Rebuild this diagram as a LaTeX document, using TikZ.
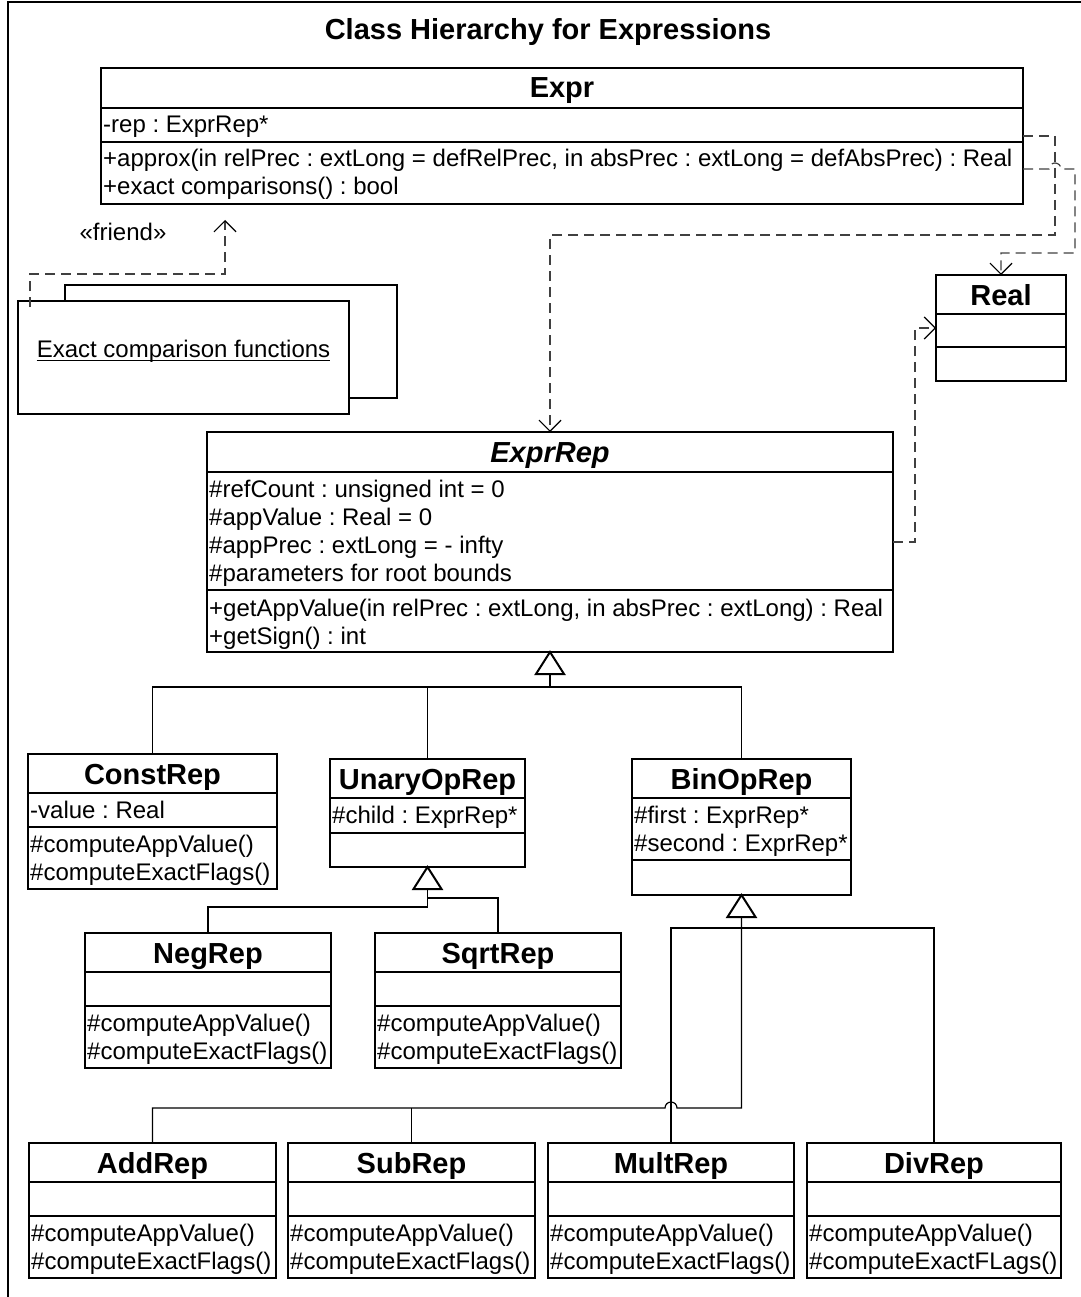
\documentclass[tikz,border=0pt]{standalone}
\usepackage{fontspec}
\setmainfont{Liberation Sans}
\usetikzlibrary{arrows.meta}
\frenchspacing
\begin{document}
\begin{tikzpicture}[x=1pt,y=-1pt,
 classbox/.style={draw, line width=2pt, fill=white, inner sep=0pt, outer sep=0pt},
 sepline/.style={line width=2pt},
 cname/.style={font=\fontsize{29}{33}\selectfont\bfseries, anchor=base, inner sep=0pt},
 member/.style={font=\fontsize{24}{28}\selectfont\frenchspacing, anchor=base west, inner sep=0pt},
 dep/.style={line width=1.2pt, black!75, dash pattern=on 10pt off 6pt,
   -{Straight Barb[length=11pt,width=22pt,line width=1.2pt,color=black]}},
 inh/.style={line width=1.2pt},
 tri/.style={line width=2pt, fill=white},
]
\useasboundingbox (0,0) rectangle (1080,1297);
% frame
\draw[line width=2pt] (8,1305) -- (8,2) -- (1090,2);
\node[cname] (title) at (548,40) {Class Hierarchy for Expressions};

% ---------- Expr
\node[classbox, minimum width=922pt, minimum height=136pt] (Expr) at (562,136) {};
\draw[sepline] (101,108) -- (1023,108);
\draw[sepline] (101,142) -- (1023,142);
\node[cname] (ExprN) at (562,98) {Expr};
\node[member] (ExprA1) at (103,133) {-rep : ExprRep*};
\node[member] (ExprO1) at (103,167) {+approx(in relPrec : extLong = defRelPrec, in absPrec : extLong = defAbsPrec) : Real};
\node[member] (ExprO2) at (103,195) {+exact comparisons() : bool};

% ---------- Real
\node[classbox, minimum width=130pt, minimum height=106pt] (Real) at (1001,328) {};
\draw[sepline] (936,314) -- (1066,314);
\draw[sepline] (936,347) -- (1066,347);
\node[cname] (RealN) at (1001,305) {Real};

% ---------- Exact comparison functions
\node[classbox, minimum width=332pt, minimum height=113pt] (ExactBack) at (231,341.5) {};
\node[classbox, minimum width=331pt, minimum height=113pt] (Exact) at (183.5,357.5) {};
\node[member, anchor=base] (ExactT) at (183.5,357.6) {Exact comparison functions};
\draw[line width=1.2pt] ([yshift=-3pt]ExactT.base west) -- ([yshift=-3pt]ExactT.base east);
\node[member, anchor=base] (friendlbl) at (123,240.6) {«friend»};

% ---------- ExprRep
\node[classbox, minimum width=686pt, minimum height=220pt] (ExprRep) at (550,542) {};
\draw[sepline] (207,472) -- (893,472);
\draw[sepline] (207,590) -- (893,590);
\node[cname] (ExprRepN) at (550,462) {\itshape ExprRep};
\node[member] (ERa1) at (209,497) {\#refCount : unsigned int = 0};
\node[member] (ERa2) at (209,525) {\#appValue : Real = 0};
\node[member] (ERa3) at (209,553) {\#appPrec : extLong = - infty};
\node[member] (ERa4) at (209,581) {\#parameters for root bounds};
\node[member] (ERo1) at (209,616) {+getAppValue(in relPrec : extLong, in absPrec : extLong) : Real};
\node[member] (ERo2) at (209,644) {+getSign() : int};

% ---------- ConstRep
\node[classbox, minimum width=249pt, minimum height=135pt] (ConstRep) at (152.5,821.5) {};
\draw[sepline] (28,793) -- (277,793);
\draw[sepline] (28,827) -- (277,827);
\node[cname] (ConstRepN) at (152.5,784) {ConstRep};
\node[member] (CRa1) at (30,818) {-value : Real};
\node[member] (CRo1) at (30,852) {\#computeAppValue()};
\node[member] (CRo2) at (30,880) {\#computeExactFlags()};

% ---------- UnaryOpRep
\node[classbox, minimum width=195pt, minimum height=108pt] (UnaryOpRep) at (427.5,813) {};
\draw[sepline] (330,798) -- (525,798);
\draw[sepline] (330,833) -- (525,833);
\node[cname] (UnaryOpRepN) at (427.5,789) {UnaryOpRep};
\node[member] (URa1) at (332,823) {\#child : ExprRep*};

% ---------- BinOpRep
\node[classbox, minimum width=219pt, minimum height=136pt] (BinOpRep) at (741.5,827) {};
\draw[sepline] (632,798) -- (851,798);
\draw[sepline] (632,860) -- (851,860);
\node[cname] (BinOpRepN) at (741.5,789) {BinOpRep};
\node[member] (BRa1) at (634,823) {\#first : ExprRep*};
\node[member] (BRa2) at (634,851) {\#second : ExprRep*};

% ---------- NegRep / SqrtRep
\node[classbox, minimum width=246pt, minimum height=135pt] (NegRep) at (208,1000.5) {};
\draw[sepline] (85,972) -- (331,972);
\draw[sepline] (85,1006) -- (331,1006);
\node[cname] (NegRepN) at (208,963) {NegRep};
\node[member] (NRo1) at (87,1031) {\#computeAppValue()};
\node[member] (NRo2) at (87,1059) {\#computeExactFlags()};

\node[classbox, minimum width=246pt, minimum height=135pt] (SqrtRep) at (498,1000.5) {};
\draw[sepline] (375,972) -- (621,972);
\draw[sepline] (375,1006) -- (621,1006);
\node[cname] (SqrtRepN) at (498,963) {SqrtRep};
\node[member] (SRo1) at (377,1031) {\#computeAppValue()};
\node[member] (SRo2) at (377,1059) {\#computeExactFlags()};

% ---------- bottom row
\node[classbox, minimum width=247pt, minimum height=135pt] (AddRep) at (152.5,1210.5) {};
\draw[sepline] (29,1182) -- (276,1182);
\draw[sepline] (29,1216) -- (276,1216);
\node[cname] (AddRepN) at (152.5,1173) {AddRep};
\node[member] (ARo1) at (31,1241) {\#computeAppValue()};
\node[member] (ARo2) at (31,1269) {\#computeExactFlags()};

\node[classbox, minimum width=247pt, minimum height=135pt] (SubRep) at (411.5,1210.5) {};
\draw[sepline] (288,1182) -- (535,1182);
\draw[sepline] (288,1216) -- (535,1216);
\node[cname] (SubRepN) at (411.5,1173) {SubRep};
\node[member] (SuRo1) at (290,1241) {\#computeAppValue()};
\node[member] (SuRo2) at (290,1269) {\#computeExactFlags()};

\node[classbox, minimum width=246pt, minimum height=135pt] (MultRep) at (671,1210.5) {};
\draw[sepline] (548,1182) -- (794,1182);
\draw[sepline] (548,1216) -- (794,1216);
\node[cname] (MultRepN) at (671,1173) {MultRep};
\node[member] (MRo1) at (550,1241) {\#computeAppValue()};
\node[member] (MRo2) at (550,1269) {\#computeExactFlags()};

\node[classbox, minimum width=254pt, minimum height=135pt] (DivRep) at (934,1210.5) {};
\draw[sepline] (807,1182) -- (1061,1182);
\draw[sepline] (807,1216) -- (1061,1216);
\node[cname] (DivRepN) at (934,1173) {DivRep};
\node[member] (DRo1) at (809,1241) {\#computeAppValue()};
\node[member] (DRo2) at (809,1269) {\#computeExactFLags()};

% ---------- dependencies
\coordinate (fs) at (30,307);
\coordinate (fe) at (225,220);
\draw[dep] (fs) |- (225,274) -- (fe);
\draw[dep] (Expr.east) -| (1055,235) -| (ExprRep.north);
\draw[dep] ([yshift=-33pt]Expr.east) -- (1049,169)
   arc[start angle=180,end angle=0,radius=6pt] -- (1075,169) |- (1001,253) -- (Real.north);
\draw[dep] (ExprRep.east) -| (915,328) -- (Real.west);

% ---------- generalisations
\draw[tri] (ExprRep.south) -- ++(-14,22) -- ++(28,0) -- cycle;
\coordinate (g1) at (550,674);
\draw[inh] (ConstRep.north) |- (550,687) -- (g1);
\draw[inh] (BinOpRep.north) |- (550,687);
\draw[inh] (UnaryOpRep.north) -- (427.5,687);

\draw[tri] (UnaryOpRep.south) -- ++(-14,22) -- ++(28,0) -- cycle;
\coordinate (g2) at (427.5,889);
\draw[inh] (NegRep.north) |- (427.5,907) -- (g2);
\draw[inh] (SqrtRep.north) |- (427.5,898);

\draw[tri] (BinOpRep.south) -- ++(-14,22) -- ++(28,0) -- cycle;
\coordinate (g3) at (741.5,917);
\draw[inh] (MultRep.north) |- (741.5,928);
\draw[inh] (DivRep.north) |- (741.5,928);
\draw[inh] (AddRep.north) |- (665,1108)
   arc[start angle=180,end angle=0,radius=6pt] -- (741.5,1108) -- (g3);
\draw[inh] (SubRep.north) -- (411.5,1108);
\end{tikzpicture}
\end{document}
